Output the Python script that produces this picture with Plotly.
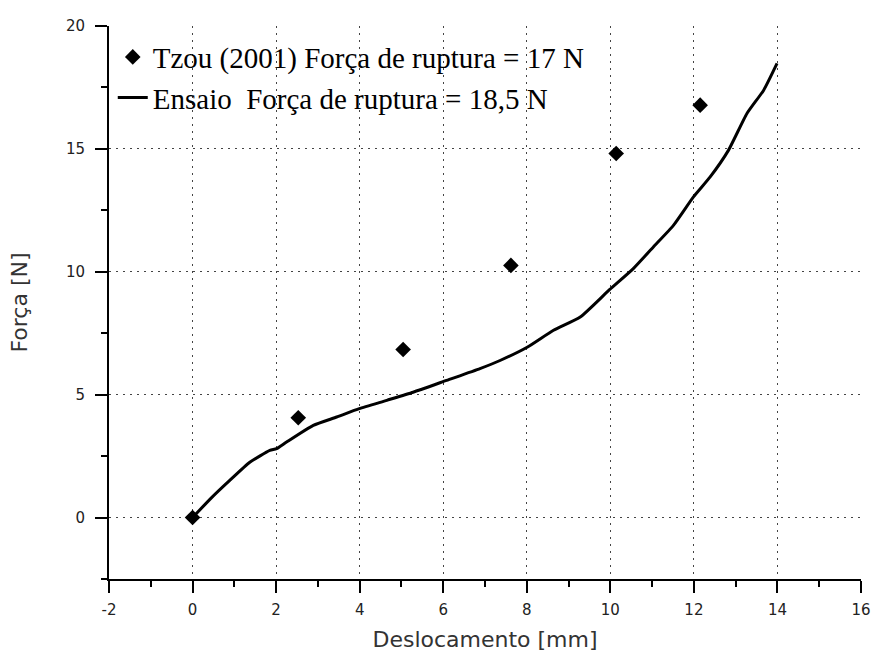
import plotly.graph_objects as go

# Data
tzou_x = [0, 2.53, 5.04, 7.62, 10.14, 12.15]
tzou_y = [0, 4.06, 6.84, 10.26, 14.81, 16.78]

ensaio_x = [0, 0.45, 0.89, 1.37, 1.85, 2.01, 2.25, 2.89, 3.45, 3.99, 4.65, 5.28, 6.08,
            6.88, 7.36, 8.02, 8.64, 9.28, 9.98, 10.55, 11.03, 11.51, 11.99, 12.39,
            12.83, 13.27, 13.67, 13.99]
ensaio_y = [0, 0.8, 1.51, 2.25, 2.73, 2.80, 3.07, 3.75, 4.09, 4.43, 4.77, 5.10, 5.58,
            6.06, 6.39, 6.94, 7.62, 8.16, 9.27, 10.13, 11.01, 11.89, 13.05, 13.86,
            14.95, 16.44, 17.39, 18.48]

x_ticks = [-2, 0, 2, 4, 6, 8, 10, 12, 14, 16]
x_tick_labels = ["-2", "0", "2", "4", "6", "8", "10", "12", "14", "16"]
x_minor = [-1, 1, 3, 5, 7, 9, 11, 13, 15]
x_grid = [0, 2, 4, 6, 8, 10, 12, 14]
y_ticks = [0, 5, 10, 15, 20]
y_tick_labels = ["0", "5", "10", "15", "20"]
y_minor = [-2.5, 2.5, 7.5, 12.5, 17.5]
y_grid = [0, 5, 10, 15]

legend_tzou = "Tzou (2001) Força de ruptura = 17 N"
legend_ensaio = "Ensaio  Força de ruptura = 18,5 N"

fig = go.Figure()
fig.add_trace(go.Scatter(x=tzou_x, y=tzou_y, mode="markers", name=legend_tzou,
                         marker=dict(symbol="diamond", size=12, color="black")))
fig.add_trace(go.Scatter(x=ensaio_x, y=ensaio_y, mode="lines", name=legend_ensaio,
                         line=dict(color="black", width=3, shape="spline",
                                   smoothing=0.5)))
# empty trace to register the grid-only overlay subplot
fig.add_trace(go.Scatter(x=[], y=[], xaxis="x2", yaxis="y2", showlegend=False,
                         hoverinfo="skip"))

tick_font = dict(family="DejaVu Sans", size=15, color="#222222")
title_font = dict(family="DejaVu Sans", size=22, color="#333333")
grid_style = dict(showgrid=True, gridcolor="#444444", gridwidth=1, griddash="2px,5px")

fig.update_layout(
    width=871, height=660,
    margin=dict(l=109, r=10, t=26, b=81),
    paper_bgcolor="white", plot_bgcolor="white",
    showlegend=True,
    legend=dict(x=0.005, y=0.99, xanchor="left", yanchor="top",
                font=dict(family="Liberation Serif", size=29, color="black"),
                bgcolor="rgba(0,0,0,0)", tracegroupgap=0, itemwidth=30),
    xaxis=dict(range=[-2, 16], tickvals=x_ticks, ticktext=x_tick_labels,
               ticks="outside", ticklen=12, automargin=False,
               tickwidth=2, tickcolor="black", showline=True, linewidth=2,
               linecolor="black", showgrid=False, zeroline=False,
               tickfont=tick_font, ticklabelstandoff=4, ticklabeloverflow="allow",
               minor=dict(tickvals=x_minor, ticks="outside", ticklen=6,
                          tickwidth=2, tickcolor="black", showgrid=False),
               title=dict(text="Deslocamento [mm]", font=title_font, standoff=14)),
    yaxis=dict(range=[-2.5, 20], tickvals=y_ticks, ticktext=y_tick_labels,
               ticks="outside", ticklen=12, automargin=False,
               tickwidth=2, tickcolor="black", showline=True, linewidth=2,
               linecolor="black", showgrid=False, zeroline=False,
               tickfont=tick_font, ticklabelstandoff=7, ticklabeloverflow="allow",
               minor=dict(tickvals=y_minor, ticks="outside", ticklen=6,
                          tickwidth=2, tickcolor="black", showgrid=False),
               title=dict(text="Força [N]", font=title_font, standoff=32)),
    xaxis2=dict(overlaying="x", matches="x", anchor="y2", tickvals=x_grid,
                showticklabels=False, ticks="", showline=False, zeroline=False,
                automargin=False, **grid_style),
    yaxis2=dict(overlaying="y", matches="y", anchor="x2", tickvals=y_grid,
                showticklabels=False, ticks="", showline=False, zeroline=False,
                automargin=False, **grid_style),
)

fig.write_html("out.html")
